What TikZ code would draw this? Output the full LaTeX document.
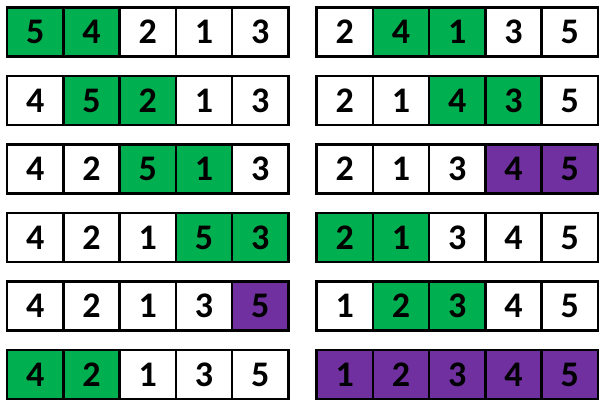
\documentclass[tikz,border=0pt]{standalone}
\usepackage{fontspec}
\setmainfont{Carlito}
\definecolor{cg}{HTML}{00B050}
\definecolor{cp}{HTML}{7030A0}
\tikzset{
  cellbox/.style={draw=black, line width=2.5pt, minimum width=56.3pt, minimum height=49pt,
    inner sep=0pt, outer sep=0pt, font=\fontsize{36}{36}\selectfont\bfseries, text=black}
}
\newcommand\arow[4]{%
  \foreach \n/\s [count=\i] in {#4} {
    \node[cellbox, fill=\s] (#3-\i) at ({#1+56.3*(\i-0.5)}, {-(7.5+68.5*(#2-1)+24.5)}) {\n};
  }%
}
\begin{document}
\begin{tikzpicture}[x=1pt,y=1pt]
\useasboundingbox (0,0) rectangle (603,-402);
% left column
\arow{7}{1}{L1}{5/cg,4/cg,2/white,1/white,3/white}
\arow{7}{2}{L2}{4/white,5/cg,2/cg,1/white,3/white}
\arow{7}{3}{L3}{4/white,2/white,5/cg,1/cg,3/white}
\arow{7}{4}{L4}{4/white,2/white,1/white,5/cg,3/cg}
\arow{7}{5}{L5}{4/white,2/white,1/white,3/white,5/cp}
\arow{7}{6}{L6}{4/cg,2/cg,1/white,3/white,5/white}
% right column
\arow{316.5}{1}{R1}{2/white,4/cg,1/cg,3/white,5/white}
\arow{316.5}{2}{R2}{2/white,1/white,4/cg,3/cg,5/white}
\arow{316.5}{3}{R3}{2/white,1/white,3/white,4/cp,5/cp}
\arow{316.5}{4}{R4}{2/cg,1/cg,3/white,4/white,5/white}
\arow{316.5}{5}{R5}{1/white,2/cg,3/cg,4/white,5/white}
\arow{316.5}{6}{R6}{1/cp,2/cp,3/cp,4/cp,5/cp}
\end{tikzpicture}
\end{document}
